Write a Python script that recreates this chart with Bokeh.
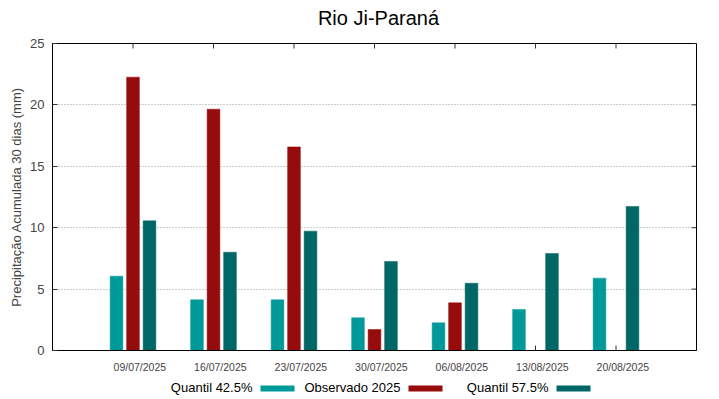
import math
from bokeh.plotting import figure
from bokeh.models import Range1d, FixedTicker, ColumnDataSource
from bokeh.transform import dodge
from bokeh.layouts import column
from bokeh.embed import file_html
from bokeh.resources import INLINE
from bokeh.core.properties import value

dates = ["09/07/2025", "16/07/2025", "23/07/2025", "30/07/2025",
         "06/08/2025", "13/08/2025", "20/08/2025"]
q425 = [6.05, 4.13, 4.13, 2.66, 2.25, 3.34, 5.89]
obs2025 = [22.26, 19.65, 16.58, 1.71, 3.88, float("nan"), float("nan")]
q575 = [10.56, 8.0, 9.72, 7.25, 5.48, 7.9, 11.73]
series_names = ["Quantil 42.5%", "Observado 2025", "Quantil 57.5%"]
colors = ["#009999", "#960b0b", "#006666"]
yticks = [0, 5, 10, 15, 20, 25]
title_text = "Rio Ji-Paraná"

FONT = "Liberation Sans"
idx = list(range(len(dates)))
src = ColumnDataSource(dict(x=idx, q425=q425, obs=obs2025, q575=q575))

W = 719
BL, BR = 52, 23
XMIN, XMAX = -1, 7
TOP_H = 34

# title strip (coordinates in page pixels)
tfig = figure(width=W, height=TOP_H, output_backend="svg", toolbar_location=None,
              x_range=Range1d(BL, W - BR), y_range=Range1d(TOP_H, 0),
              min_border_left=BL, min_border_right=BR, min_border_top=0,
              min_border_bottom=0, outline_line_color=None)
tfig.axis.visible = False
tfig.grid.visible = False
tfig.text(x=[378], y=[17], text=[title_text], text_align="center",
          text_baseline="middle", text_font=value(FONT), text_font_size="20px",
          text_color="black")

p = figure(width=W, height=342, output_backend="svg", toolbar_location=None,
           x_range=Range1d(XMIN, XMAX), y_range=Range1d(0, 25),
           min_border_left=BL, min_border_right=BR, min_border_top=9,
           min_border_bottom=26, background_fill_color="white",
           border_fill_color="white")

# mirror tick marks (inward) on the frame edges
tick_col = "#333333"
p.scatter(x=idx, y=[0] * len(idx), marker="dash", size=10, angle=math.pi / 2,
          line_color=tick_col, line_width=1)
p.scatter(x=idx, y=[25] * len(idx), marker="dash", size=10, angle=math.pi / 2,
          line_color=tick_col, line_width=1)
p.scatter(x=[XMAX] * len(yticks), y=yticks, marker="dash", size=10,
          line_color=tick_col, line_width=1)

off = 0.205
w = 0.158
for col, c, o in zip(["q425", "obs", "q575"], colors, [-off, 0, off]):
    p.vbar(x=dodge("x", o, range=p.x_range), top=col, width=w, bottom=0,
           source=src, fill_color=c, line_color=c, line_width=0.5)

p.outline_line_color = "black"
p.outline_line_width = 1
p.outline_line_alpha = 1

p.xgrid.visible = False
p.ygrid.ticker = FixedTicker(ticks=[5, 10, 15, 20])
p.ygrid.grid_line_color = "#9a9a9a"
p.ygrid.grid_line_dash = "1 2"
p.ygrid.grid_line_width = 1

ya = p.yaxis[0]
ya.ticker = FixedTicker(ticks=yticks)
ya.axis_label = "Precipitação Acumulada 30 dias (mm)"
ya.axis_label_text_font = FONT
ya.axis_label_text_font_size = "13px"
ya.axis_label_text_font_style = "normal"
ya.axis_label_standoff = 3
ya.major_label_text_font = FONT
ya.major_label_text_font_size = "13px"
ya.major_label_standoff = 8
ya.major_tick_in = 5
ya.major_tick_out = 0
ya.major_tick_line_color = tick_col
ya.minor_tick_line_color = None
ya.axis_line_color = "black"

xa = p.xaxis[0]
shift = 0.085
xa.ticker = FixedTicker(ticks=[i + shift for i in idx])
xa.major_label_overrides = {i + shift: d for i, d in zip(idx, dates)}
xa.major_label_text_font = FONT
xa.major_label_text_font_size = "10.5px"
xa.major_label_standoff = 10
xa.major_tick_in = 0
xa.major_tick_out = 0
xa.minor_tick_line_color = None
xa.axis_line_color = "black"

# legend strip below (coordinates in page pixels)
leg = figure(width=W, height=23, output_backend="svg", toolbar_location=None,
             x_range=Range1d(BL, W - BR), y_range=Range1d(399, 376),
             min_border_left=BL, min_border_right=BR, min_border_top=0,
             min_border_bottom=0, outline_line_color=None)
leg.axis.visible = False
leg.grid.visible = False
text_right = [252, 400, 548]
sw_gap = 8
sw_w = 34
leg.text(x=text_right, y=[387] * 3, text=series_names, text_align="right",
         text_baseline="middle", text_font=value(FONT), text_font_size="13px",
         text_color="black")
leg.rect(x=[t + sw_gap + sw_w / 2 for t in text_right], y=[388] * 3, width=sw_w,
         height=6, width_units="screen", height_units="screen",
         fill_color=colors, line_color=None)

layout = column(tfig, p, leg, spacing=0)
open("out.html", "w").write(file_html(layout, INLINE))
